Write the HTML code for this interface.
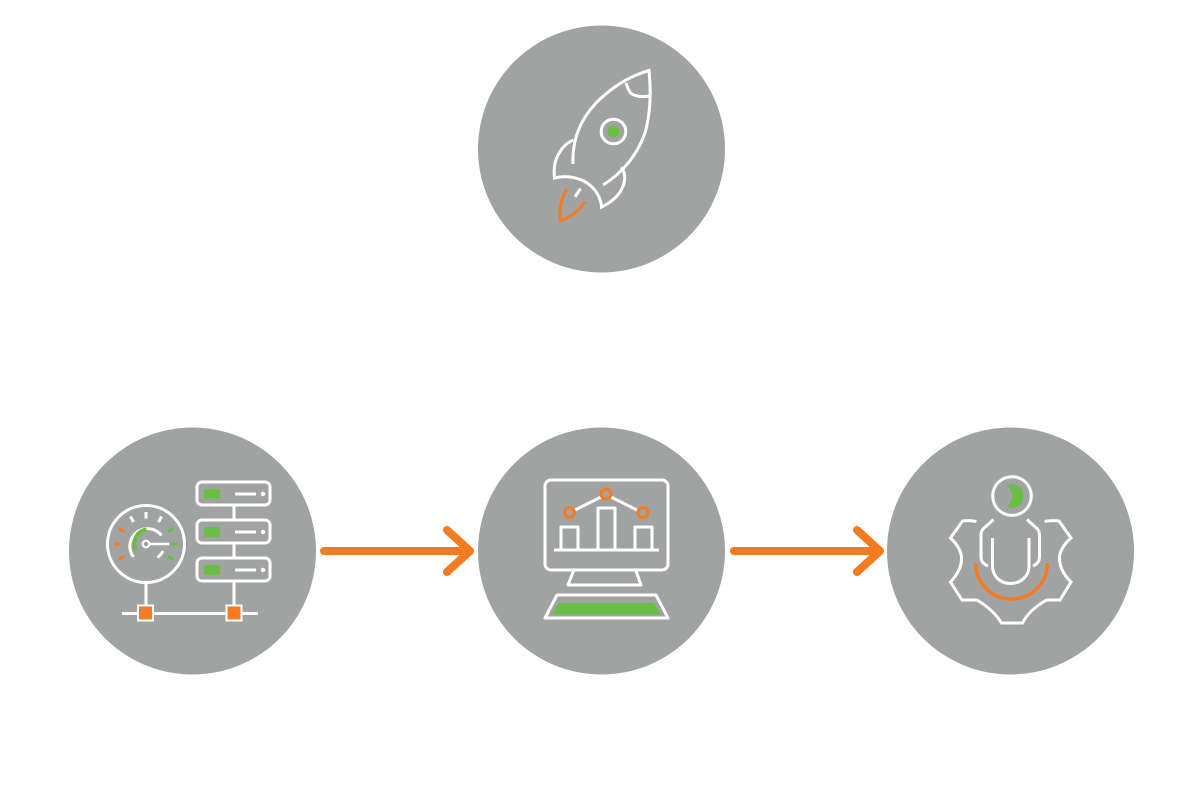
<!DOCTYPE html>
<html><head><meta charset="utf-8"><style>
html,body{margin:0;padding:0;background:#fff;}
svg{display:block;}
</style></head><body>
<svg width="1200" height="810" viewBox="0 0 1200 810" xmlns="http://www.w3.org/2000/svg">
<rect width="1200" height="810" fill="#ffffff"/>
<g fill="#a1a3a2">
<circle cx="601.5" cy="149" r="123.5"/>
<circle cx="192.5" cy="551" r="123.5"/>
<circle cx="601.5" cy="551" r="123.5"/>
<circle cx="1010.5" cy="551" r="123.5"/>
</g>

<!-- arrows -->
<g stroke="#f47b20" stroke-width="8" stroke-linecap="round" stroke-linejoin="round" fill="none">
<line x1="324" y1="551" x2="469" y2="551"/>
<polyline points="447,530 470,551 447,572"/>
<line x1="734" y1="551" x2="879" y2="551"/>
<polyline points="857,530 880,551 857,572"/>
</g>

<!-- rocket -->
<g fill="none" stroke="#ffffff" stroke-width="3" stroke-linecap="butt" stroke-linejoin="miter">
<path d="M573,164 C572,140 580,120 596,103 C612,87 630,76 649,70.5 C651,90 651,112 645,133 C638,153 624,172 603,185"/>
<path d="M626,83 C628,89 630,93 632,94 C637,97 643,97 649,96"/>
<path d="M573.5,140 C565,143 558,152 555,163 C554,168 554,173 554.5,178 C566,175 582,177 592,187 C598,193 601,200 601.5,207 C612,202 620,195 623.5,185 C626,177 624,171 621.5,167"/>
<line x1="580.5" y1="188.5" x2="575" y2="197"/>
<circle cx="613.5" cy="131.5" r="12.3"/>
</g>
<circle cx="613.5" cy="131.5" r="6" fill="#6abd45"/>
<path d="M567,189 C561,198 559,209 560.5,220.5 C570,218 579,211 585,201.5" fill="none" stroke="#f47b20" stroke-width="3"/>

<!-- gauge + servers -->
<g fill="none" stroke="#ffffff" stroke-width="3">
<circle cx="146" cy="544" r="38.5"/>
<path d="M133.5,557 A17.5,17.5 0 1 1 161.5,535.5"/>
<path d="M163,551 A17.5,17.5 0 0 1 157.5,557.5"/>
<circle cx="146" cy="544" r="3.3" stroke-width="2.2"/>
<line x1="149.5" y1="544" x2="169" y2="544" stroke-width="2.5"/>
<!-- top white ticks -->
<line x1="133.5" y1="522" x2="130.5" y2="516.5"/>
<line x1="146" y1="518.5" x2="146" y2="512"/>
<line x1="158.5" y1="522" x2="161.5" y2="516.5"/>
<!-- servers -->
<rect x="197" y="482" width="73" height="23" rx="5"/>
<rect x="197" y="520" width="73" height="23" rx="5"/>
<rect x="197" y="558" width="73" height="23" rx="5"/>
<line x1="235" y1="494" x2="256" y2="494"/>
<line x1="235" y1="532" x2="256" y2="532"/>
<line x1="235" y1="570" x2="256" y2="570"/>
<line x1="234" y1="505" x2="234" y2="520"/>
<line x1="234" y1="543" x2="234" y2="558"/>
<line x1="234" y1="581" x2="234" y2="606"/>
<line x1="146" y1="582.5" x2="146" y2="606"/>
<line x1="122" y1="613.5" x2="139" y2="613.5"/>
<line x1="153" y1="613.5" x2="227" y2="613.5"/>
<line x1="241" y1="613.5" x2="258" y2="613.5"/>
</g>
<g fill="#ffffff">
<circle cx="263" cy="494" r="2.2"/>
<circle cx="263" cy="532" r="2.2"/>
<circle cx="263" cy="570" r="2.2"/>
</g>
<g fill="#6abd45">
<rect x="204" y="489" width="16" height="10"/>
<rect x="204" y="527" width="16" height="10"/>
<rect x="204" y="565" width="16" height="10"/>
<path d="M145,530 A14,14 0 0 0 136,550 A17,17 0 0 1 145,530 Z" transform="translate(0,0)"/>
</g>
<path d="M146.5,529.5 A14.5,14.5 0 0 0 136,550.5" fill="none" stroke="#6abd45" stroke-width="4"/>
<g stroke="#f47b20" stroke-width="3">
<line x1="124" y1="531.5" x2="118.5" y2="528.5"/>
<line x1="121" y1="544" x2="114" y2="544"/>
<line x1="124" y1="556.5" x2="118.5" y2="559.5"/>
</g>
<g stroke="#6abd45" stroke-width="3">
<line x1="168" y1="531.5" x2="173.5" y2="528.5"/>
<line x1="171" y1="544" x2="178" y2="544"/>
<line x1="168" y1="556.5" x2="173.5" y2="559.5"/>
</g>
<g fill="#f47b20" stroke="#ffffff" stroke-width="2">
<rect x="138" y="605.5" width="15" height="15"/>
<rect x="226.5" y="605.5" width="15" height="15"/>
</g>

<!-- computer -->
<g fill="none" stroke="#ffffff" stroke-width="3" stroke-linejoin="round">
<rect x="545" y="480" width="123" height="90" rx="6"/>
<path d="M573.5,571 L568,585 L641,585 L636,571"/>
<path d="M557,595 L656,595 L668,618 L545,618 Z"/>
<line x1="554" y1="550" x2="659" y2="550"/>
<path d="M561,549 L561,527 L578,527 L578,549"/>
<path d="M598,549 L598,508 L615,508 L615,549"/>
<path d="M635,549 L635,527 L652,527 L652,549"/>
<line x1="574" y1="510.5" x2="601" y2="497"/>
<line x1="611" y1="497" x2="638" y2="510.5"/>
</g>
<path d="M559,603 L654,603 L661,614.5 L552,614.5 Z" fill="#6abd45"/>
<g fill="none" stroke="#f47b20" stroke-width="3">
<circle cx="569.5" cy="512.5" r="5"/>
<circle cx="606" cy="494" r="5"/>
<circle cx="643" cy="512.5" r="5"/>
</g>

<!-- person in gear -->
<g fill="none" stroke="#ffffff" stroke-width="3" stroke-linejoin="miter">
<circle cx="1012" cy="496" r="19.3"/>
<path d="M976.5,521.5 C972,520.5 967,520.5 962.5,521 L950.5,538 C958,545 962,552 961.5,560 C961,568 957,575 950.5,582 L962,600 L977,600 C987,606 996,614 1001.5,623 L1022.5,623 C1027,614 1036,606 1046.5,600 L1060,600 L1071,582 C1064,575 1060,568 1059.5,560 C1059,552 1063,545 1071,538 L1059,521 C1054,520.5 1049,520.5 1044.5,521.5"/>
<path d="M993.5,519.5 L983,529 C981.5,531 981,533 981,535 L981,557 C981,561 983,564 988,566"/>
<path d="M1027,519.5 L1037.5,529 C1039,531 1039.5,533 1039.5,535 L1039.5,557 C1039.5,561 1037.5,564 1033,566"/>
<path d="M992.5,538 L992.5,566 C992.5,576 1000,583.5 1010.5,583.5 C1021,583.5 1029,576 1029,566 L1029,538"/>
</g>
<path d="M1007,485 A11.9,11.9 0 1 1 1007,507 A14.6,14.6 0 0 0 1007,485 Z" fill="#6abd45"/>
<path d="M975.5,563 A36,36 0 0 0 1047.5,563" fill="none" stroke="#f47b20" stroke-width="3.5"/>
</svg>
</body></html>
